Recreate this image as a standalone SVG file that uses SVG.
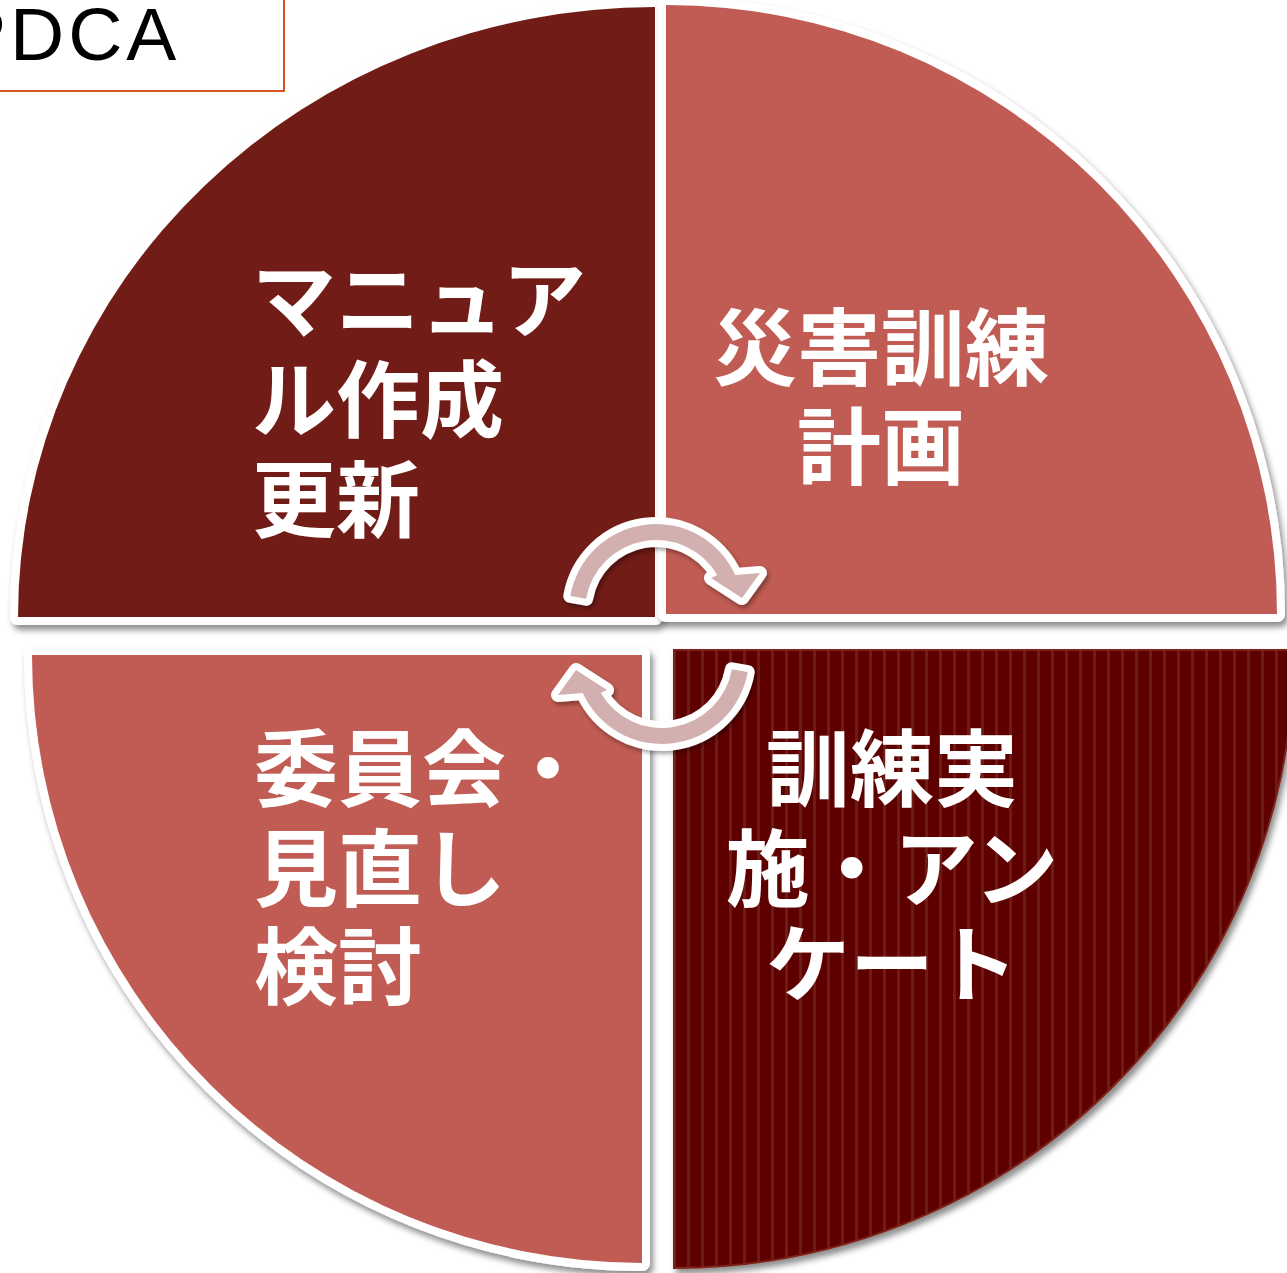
<svg xmlns="http://www.w3.org/2000/svg" width="1287" height="1273" viewBox="0 0 1287 1273">
  <defs>
    <filter id="shadow" x="-10%" y="-10%" width="120%" height="120%">
      <feDropShadow dx="3" dy="5" stdDeviation="3" flood-color="#000" flood-opacity="0.45"/>
    </filter>
    <filter id="ashadow" x="-20%" y="-20%" width="140%" height="140%">
      <feDropShadow dx="2" dy="3" stdDeviation="2" flood-color="#000" flood-opacity="0.35"/>
    </filter>
    <pattern id="stripes" patternUnits="userSpaceOnUse" x="0" y="0" width="14" height="20">
      <rect width="14" height="20" fill="#5e0000"/>
      <rect x="1" y="0" width="3" height="20" fill="#6e1c14"/>
    </pattern>
    <style>
      .seg { stroke: #ffffff; stroke-width: 16; stroke-linejoin: round; paint-order: stroke; }
      .dark { fill: #711f17; }
      .light { fill: #c05b53; }
      .lbl { font-family: "Noto Sans CJK JP", "Noto Sans", sans-serif; font-weight: 700; font-size: 84px; fill: #ffffff; }
      .arrow { fill: #d3b0b0; stroke: #ffffff; stroke-width: 14; stroke-linejoin: round; paint-order: stroke; }
    </style>
  </defs>

  <g id="pdca-title">
    <rect x="-10" y="-10" width="294" height="101" fill="#ffffff" stroke="#d5541f" stroke-width="2"/>
    <text x="-44" y="60" font-family="Liberation Sans, Arial, sans-serif" font-size="75" letter-spacing="4" fill="#000000">PDCA</text>
  </g>

  <g id="node-do" filter="url(#shadow)">
    <path d="M674,650 L1294,650 A620,618 0 0,1 674,1268 Z" fill="url(#stripes)" stroke="#7d2218" stroke-width="2"/>
  </g>
  <g id="node-check" filter="url(#shadow)">
    <path class="seg light" d="M642,655 L642,1263 A610,608 0 0,1 32,655 Z"/>
  </g>
  <g id="node-act" filter="url(#shadow)">
    <path class="seg dark" d="M655,617 L18,617 A637,610 0 0,1 655,7 Z"/>
  </g>
  <g id="node-plan" filter="url(#shadow)">
    <path class="seg light" d="M666,614 L666,5 A611,609 0 0,1 1277,614 Z"/>
  </g>

  <g id="labels">
    <text class="lbl" x="252" y="331">マニュア</text>
    <text class="lbl" x="252" y="431">ル作成</text>
    <text class="lbl" x="252" y="531">更新</text>

    <text class="lbl" x="881" y="379" text-anchor="middle">災害訓練</text>
    <text class="lbl" x="881" y="478" text-anchor="middle">計画</text>

    <text class="lbl" x="892" y="800" text-anchor="middle">訓練実</text>
    <text class="lbl" x="892" y="900" text-anchor="middle">施・アン</text>
    <text class="lbl" x="892" y="995" text-anchor="middle">ケート</text>

    <text class="lbl" x="254" y="800">委員会・</text>
    <text class="lbl" x="254" y="900">見直し</text>
    <text class="lbl" x="254" y="998">検討</text>
  </g>

  <g id="connectors" filter="url(#ashadow)">
    <path id="arrow-top" class="arrow" d="M586.1,598.7 L570.3,595.9 A87,87 0 0,1 735.2,575 L760,573 L742,598 L711,578 L717.2,575 A71,71 0 0,0 586.1,598.7 Z"/>
    <path id="arrow-bottom" class="arrow" transform="rotate(180 659 634)" d="M586.1,598.7 L570.3,595.9 A87,87 0 0,1 735.2,575 L760,573 L742,598 L711,578 L717.2,575 A71,71 0 0,0 586.1,598.7 Z"/>
  </g>
</svg>
